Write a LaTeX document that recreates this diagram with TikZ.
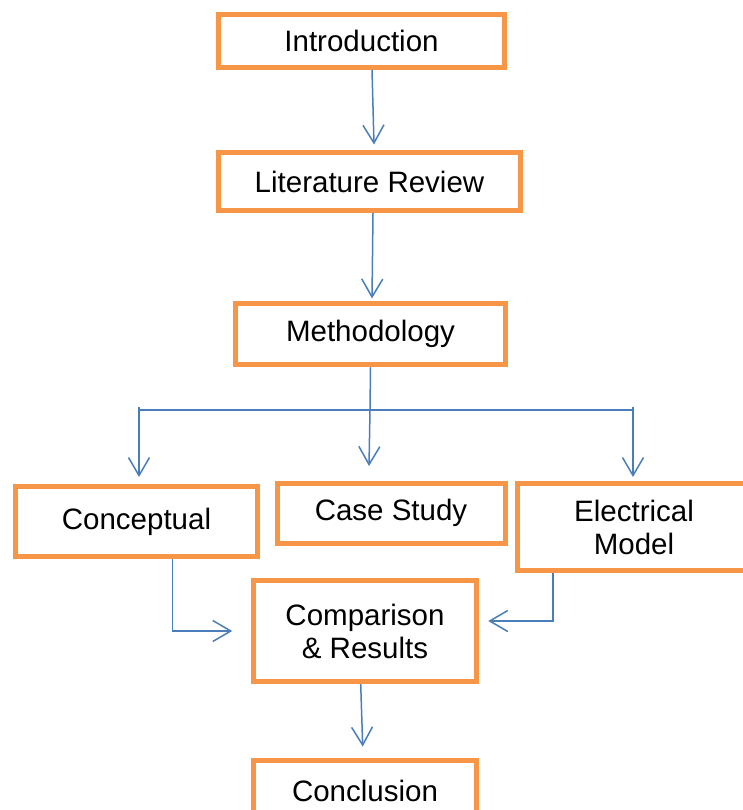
\documentclass[tikz,border=0pt]{standalone}
\usepackage{fontspec}
\setmainfont{Liberation Sans}
\usetikzlibrary{arrows.meta}
\definecolor{boxorange}{HTML}{F79646}
\definecolor{flowblue}{HTML}{4A7EBB}
\begin{document}
\begin{tikzpicture}[x=1pt,y=-1pt,
  stage/.style={draw=boxorange, line width=5pt, fill=white, inner sep=0pt,
    align=center, font=\fontsize{29.5}{33}\selectfont},
  link/.style={draw=flowblue, line width=1.5pt},
  flow/.style={link, -{Straight Barb[length=18pt,width=21pt]}}]
\useasboundingbox (0,0) rectangle (742,810);

% stages of the study
\node[stage, minimum width=286pt, minimum height=53pt] (intro) at (361.5,41) {Introduction};
\node[stage, minimum width=302pt, minimum height=58pt] (lit) at (369.5,181.5) {Literature Review};
\node[stage, minimum width=270pt, minimum height=61.5pt] (meth) at (370.5,334) {Methodology};
\node[stage, minimum width=242pt, minimum height=70pt] (concept) at (136.5,521.5) {Conceptual};
\node[stage, minimum width=228pt, minimum height=60pt] (case) at (391,513) {Case Study};
\node[stage, minimum width=233pt, minimum height=87pt] (elec) at (634,527) {Electrical\\Model};
\node[stage, minimum width=222.5pt, minimum height=101pt] (comp) at (365,631) {Comparison\\\& Results};
\node[stage, minimum width=222.5pt, minimum height=62pt] (concl) at (365,791) {Conclusion};

% main sequence
\draw[flow] ([xshift=10.5pt]intro.south) -- ([xshift=4.5pt,yshift=5.5pt]lit.north);
\draw[flow] ([xshift=3.5pt]lit.south) -- ([xshift=1.5pt,yshift=2.3pt]meth.north);

% branching into the three approaches
\coordinate (split) at (370,410);
\coordinate (busL) at (139,410);
\coordinate (busR) at (633,410);
\coordinate (tickL) at (139,406.5);
\coordinate (tickR) at (633,406.5);
\coordinate (tipL) at (139,477);
\coordinate (tipM) at (369,466);
\coordinate (tipR) at (633,477);
\draw[link] (busL) -- (busR);
\draw[flow] (meth.south) -- (split) -- (tipM);
\draw[flow] (tickL) -- (tipL);
\draw[flow] (tickR) -- (tipR);

% joining into the comparison
\draw[flow] ([xshift=36pt]concept.south) |- ([xshift=-19pt]comp.west);
\draw[flow] ([xshift=-81pt]elec.south) |- ([xshift=9.5pt,yshift=10pt]comp.east);
\draw[flow] ([xshift=-4.3pt]comp.south) -- ([xshift=-2.3pt,yshift=11pt]concl.north);
\end{tikzpicture}
\end{document}
